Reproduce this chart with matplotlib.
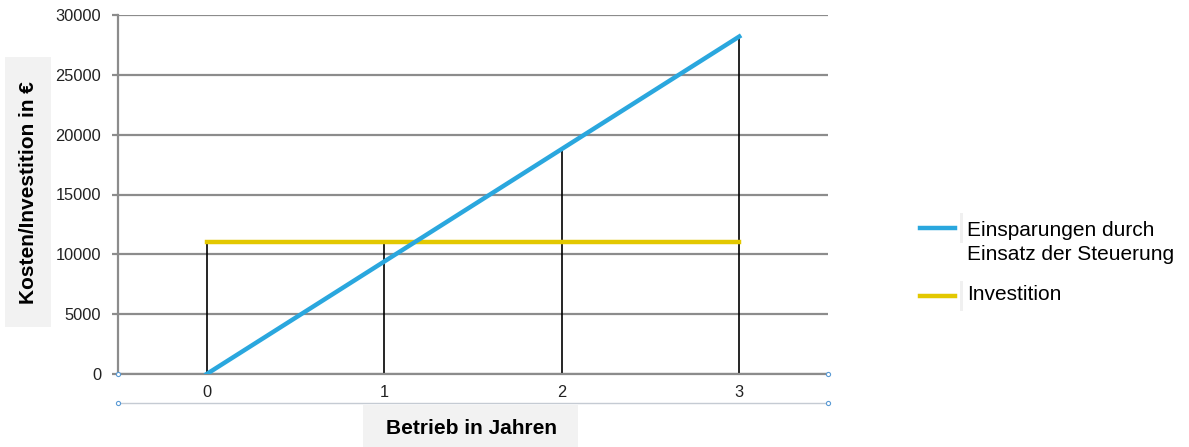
import matplotlib.pyplot as plt
from matplotlib.lines import Line2D
from matplotlib.patches import Rectangle

plt.rcParams['font.family'] = ['Liberation Sans', 'DejaVu Sans']

# Daten
jahre = [0, 1, 2, 3]
einsparungen = [0, 9400, 18800, 28200]
investition = [11000, 11000, 11000, 11000]
y_ticks = [0, 5000, 10000, 15000, 20000, 25000, 30000]

blau = '#2aa7de'
gelb = '#e3c800'
grau = '#8c8c8c'

W, H = 1189, 447
fig = plt.figure(figsize=(W / 100, H / 100), dpi=100)
ax = fig.add_axes([118 / W, 1 - 374 / H, 710 / W, 359 / H])

ax.set_xlim(-0.5, 3.5)
ax.set_ylim(0, 30000)
ax.set_yticks(y_ticks)
ax.set_yticklabels([str(v) for v in y_ticks], fontsize=11.8, color='#222222')
ax.set_xticks(jahre)
ax.set_xticklabels([str(j) for j in jahre], fontsize=11.8, color='#222222')
ax.tick_params(axis='y', length=4.5, width=1.6, color=grau, pad=7.5)
ax.tick_params(axis='x', length=0, pad=8)
ax.grid(axis='y', color=grau, linewidth=1.6)
ax.set_axisbelow(True)
for s in ['top', 'right']:
    ax.spines[s].set_visible(False)
ax.spines['left'].set_color(grau)
ax.spines['left'].set_linewidth(1.6)
ax.spines['bottom'].set_color(grau)
ax.spines['bottom'].set_linewidth(1.6)

# Lotlinien bis zum jeweils höheren Wert
for j, e, i in zip(jahre, einsparungen, investition):
    ax.vlines(j, 0, max(e, i), color='black', linewidth=1.2, zorder=2)

ax.plot(jahre, investition, color=gelb, linewidth=3.2, zorder=3)
ax.plot(jahre, einsparungen, color=blau, linewidth=3.2, zorder=4)

# untere Begrenzung der Achsenbeschriftung
y_unten = 1 - 403 / H
fig.add_artist(Line2D([118 / W, 828 / W], [y_unten, y_unten], color='#c5cbd3', linewidth=1))
for xx in (118 / W, 828 / W):
    for yy in (1 - 374 / H, y_unten):
        fig.add_artist(Line2D([xx], [yy], marker='o', markersize=3, markerfacecolor='white',
                              markeredgecolor='#5b9bd5', markeredgewidth=0.8))

# Achsentitel mit grauem Hintergrund
fig.add_artist(Rectangle((5 / W, 1 - 327 / H), 46 / W, 270 / H, facecolor='#f2f2f2',
                         edgecolor='none', transform=fig.transFigure))
fig.text(29 / W, 1 - 193 / H, 'Kosten/Investition in €', rotation=90, ha='center', va='center',
         fontsize=15, fontweight='bold')
fig.add_artist(Rectangle((363 / W, 0), 215 / W, 42 / H, facecolor='#f2f2f2',
                         edgecolor='none', transform=fig.transFigure))
fig.text(471 / W, 1 - 428 / H, 'Betrieb in Jahren', ha='center', va='center',
         fontsize=15, fontweight='bold')

# Legende
eintraege = [(blau, 228, ['Einsparungen durch', 'Einsatz der Steuerung'], [231, 255]),
             (gelb, 296, ['Investition'], [295])]
for farbe, yp, zeilen, ys in eintraege:
    yf = 1 - yp / H
    fig.add_artist(Line2D([920 / W, 955 / W], [yf, yf], color=farbe, linewidth=3.2))
    fig.add_artist(Rectangle((960 / W, 1 - (yp + 15) / H), 3 / W, 30 / H,
                             facecolor='#f0f0f0', edgecolor='none', transform=fig.transFigure))
    for zeile, yz in zip(zeilen, ys):
        fig.text(967 / W, 1 - yz / H, zeile, ha='left', va='center', fontsize=15)

fig.savefig('out.png', dpi=100)
